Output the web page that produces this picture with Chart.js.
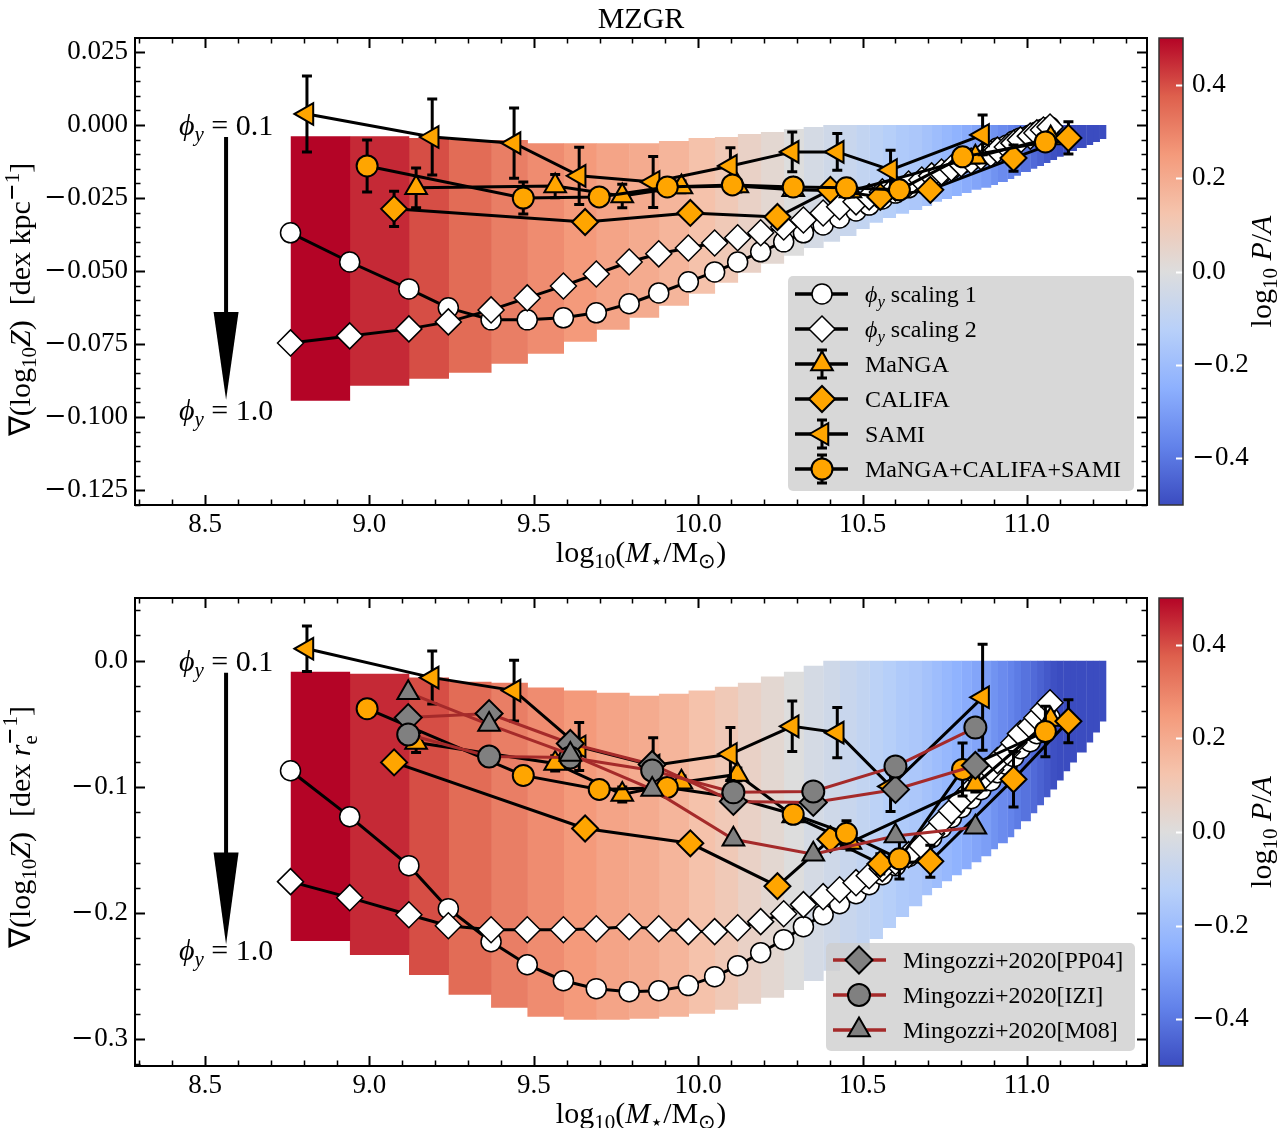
<!DOCTYPE html>
<html>
<head>
<meta charset="utf-8">
<script src="https://cdn.jsdelivr.net/npm/chart.js@4.4.1/dist/chart.umd.min.js"></script>
<style>
@font-face { font-family: 'MathMinus'; src: local('DejaVu Sans'), local('DejaVuSans'); unicode-range: U+2212, U+2207, U+22C6, U+2299; }
html,body{margin:0;padding:0;background:#fff;}
#wrap{position:relative;width:1281px;height:1128px;overflow:hidden;background:#fff;}
canvas{position:absolute;}
</style>
</head>
<body>
<div id="wrap">
<canvas id="cTop" width="1281" height="580" style="left:0;top:0"></canvas>
<canvas id="cBot" width="1281" height="563" style="left:0;top:565px"></canvas>
<canvas id="cbTop" width="141" height="580" style="left:1140px;top:0"></canvas>
<canvas id="cbBot" width="141" height="563" style="left:1140px;top:565px"></canvas>
</div>
<script>
// ---------------- DATA ----------------
// model mass grid (bin edges), log10(M*/Msun)
const massGrid = [8.76, 8.94, 9.12, 9.24, 9.37, 9.48, 9.59, 9.69, 9.79, 9.88, 9.97, 10.05, 10.12, 10.19, 10.26, 10.32, 10.38, 10.43, 10.48, 10.52, 10.56, 10.60, 10.64, 10.68, 10.71, 10.74, 10.77, 10.80, 10.83, 10.86, 10.89, 10.91, 10.94, 10.96, 10.98, 11.01, 11.03, 11.05, 11.07, 11.09, 11.11, 11.13, 11.15, 11.18, 11.20, 11.22, 11.24];
// log10 P/A per bin (colour of the band)
const bandLogPA = [0.50, 0.45, 0.40, 0.35, 0.31, 0.28, 0.25, 0.22, 0.20, 0.17, 0.13, 0.10, 0.06, 0.03, 0.00, -0.03, -0.05, -0.07, -0.09, -0.11, -0.13, -0.15, -0.16, -0.18, -0.20, -0.22, -0.24, -0.26, -0.28, -0.30, -0.33, -0.35, -0.37, -0.39, -0.41, -0.43, -0.45, -0.47, -0.49, -0.50, -0.50, -0.50, -0.50, -0.50, -0.50, -0.50];
// band limits (phi_y = 0.1 top, phi_y = 1.0 bottom), dex/kpc
const bandTopKpc = [-0.0038, -0.0038, -0.0044, -0.0051, -0.0051, -0.0062, -0.0062, -0.0062, -0.0062, -0.0055, -0.0044, -0.0041, -0.0031, -0.0024, -0.0014, -0.0007, 0, 0, 0, 0, 0, 0, 0, 0, 0, 0, 0, 0, 0, 0, 0, 0, 0, 0, 0, 0, 0, 0, 0, 0, 0, 0, 0, 0, 0, 0];
const bandBotKpc = [-0.0944, -0.0893, -0.0869, -0.0848, -0.0817, -0.0783, -0.0742, -0.0701, -0.0660, -0.0619, -0.0578, -0.0540, -0.0506, -0.0475, -0.0448, -0.0421, -0.0400, -0.0380, -0.0356, -0.0335, -0.0318, -0.0304, -0.0291, -0.0277, -0.0263, -0.0253, -0.0243, -0.0233, -0.0222, -0.0215, -0.0205, -0.0195, -0.0185, -0.0174, -0.0161, -0.0150, -0.0140, -0.0130, -0.0120, -0.0109, -0.0099, -0.0089, -0.0079, -0.0068, -0.0058, -0.0048];
// band limits, dex/re
const bandTopRe = [-0.0087, -0.0103, -0.0134, -0.0166, -0.0174, -0.0213, -0.0237, -0.0253, -0.0277, -0.0261, -0.0237, -0.0206, -0.0174, -0.0126, -0.0087, -0.0040, 0, 0, 0, 0, 0, 0, 0, 0, 0, 0, 0, 0, 0, 0, 0, 0, 0, 0, 0, 0, 0, 0, 0, 0, 0, 0, 0, 0, 0, 0];
const bandBotRe = [-0.2221, -0.2332, -0.2490, -0.2648, -0.2751, -0.2822, -0.2846, -0.2846, -0.2838, -0.2822, -0.2798, -0.2767, -0.2719, -0.2672, -0.2609, -0.2538, -0.2458, -0.2379, -0.2292, -0.2206, -0.2119, -0.2032, -0.1945, -0.1858, -0.1802, -0.1747, -0.1700, -0.1652, -0.1597, -0.1549, -0.1494, -0.1447, -0.1399, -0.1336, -0.1273, -0.1209, -0.1146, -0.1083, -0.1020, -0.0949, -0.0877, -0.0806, -0.0727, -0.0648, -0.0569, -0.0482];
// phi_y scaling curves (first 39 grid masses)
const scaling1Kpc = [-0.0369, -0.0469, -0.0561, -0.0626, -0.0667, -0.0667, -0.0660, -0.0643, -0.0612, -0.0575, -0.0537, -0.0503, -0.0469, -0.0434, -0.0400, -0.0369, -0.0342, -0.0318, -0.0294, -0.0274, -0.0253, -0.0233, -0.0215, -0.0198, -0.0181, -0.0164, -0.0150, -0.0133, -0.0120, -0.0106, -0.0092, -0.0079, -0.0068, -0.0055, -0.0044, -0.0034, -0.0024, -0.0014, -0.0007];
const scaling2Kpc = [-0.0746, -0.0722, -0.0698, -0.0674, -0.0633, -0.0592, -0.0551, -0.0510, -0.0469, -0.0441, -0.0421, -0.0404, -0.0386, -0.0369, -0.0349, -0.0325, -0.0301, -0.0280, -0.0263, -0.0246, -0.0229, -0.0215, -0.0202, -0.0188, -0.0174, -0.0161, -0.0147, -0.0133, -0.0123, -0.0109, -0.0099, -0.0086, -0.0075, -0.0062, -0.0051, -0.0038, -0.0027, -0.0017, -0.0007];
const scaling1Re = [-0.0872, -0.1236, -0.1624, -0.1965, -0.2227, -0.2409, -0.2536, -0.2599, -0.2623, -0.2615, -0.2575, -0.2504, -0.2417, -0.2314, -0.2211, -0.2108, -0.2013, -0.1926, -0.1846, -0.1775, -0.1696, -0.1624, -0.1553, -0.1482, -0.1403, -0.1323, -0.1244, -0.1165, -0.1094, -0.1022, -0.0951, -0.0887, -0.0824, -0.0761, -0.0697, -0.0642, -0.0578, -0.0515, -0.0452];
const scaling2Re = [-0.1751, -0.1878, -0.2013, -0.2100, -0.2132, -0.2132, -0.2132, -0.2124, -0.2108, -0.2124, -0.2147, -0.2147, -0.2116, -0.2068, -0.2005, -0.1933, -0.1870, -0.1815, -0.1759, -0.1704, -0.1648, -0.1593, -0.1537, -0.1466, -0.1371, -0.1276, -0.1189, -0.1101, -0.1022, -0.0943, -0.0864, -0.0792, -0.0721, -0.0650, -0.0578, -0.0515, -0.0452, -0.0388, -0.0333];
// observations
const mangaMass = [9.142, 9.565, 9.769, 9.949, 10.119, 10.289, 10.463, 10.843, 11.072];
const mangaKpc = [-0.0215, -0.0209, -0.0243, -0.0212, -0.0209, -0.0222, -0.0226, -0.0110, -0.0044];
const mangaKpcErr = [0.0068, 0.004, 0.004, 0.002, 0.002, 0.002, 0.002, 0.002, 0.002];
const mangaRe = [-0.0648, -0.0814, -0.1060, -0.0964, -0.0901, -0.1230, -0.1440, -0.0980, -0.0466];
const mangaReErr = [0.008, 0.006, 0.006, 0.005, 0.005, 0.006, 0.006, 0.006, 0.006];
const califaMass = [9.075, 9.656, 9.976, 10.241, 10.402, 10.554, 10.706, 10.959, 11.126];
const califaKpc = [-0.0287, -0.0332, -0.0301, -0.0315, -0.0222, -0.0246, -0.0222, -0.0113, -0.0044];
const califaKpcErr = [0.006, 0.001, 0.001, 0.001, 0.001, 0.0015, 0.002, 0.0045, 0.0055];
const califaRe = [-0.0806, -0.1330, -0.1447, -0.1787, -0.1415, -0.1610, -0.1590, -0.0940, -0.0480];
const califaReErr = [0.004, 0.003, 0.003, 0.003, 0.004, 0.008, 0.0127, 0.022, 0.017];
const samiMass = [8.810, 9.191, 9.440, 9.638, 9.863, 10.098, 10.286, 10.423, 10.585, 10.865];
const samiKpc = [0.0038, -0.0041, -0.0062, -0.0174, -0.0195, -0.0140, -0.0092, -0.0092, -0.0154, -0.0034];
const samiKpcErr = [0.013, 0.013, 0.012, 0.0098, 0.0087, 0.0062, 0.0068, 0.0063, 0.0068, 0.0068];
const samiRe = [0.0095, -0.0134, -0.0237, -0.0680, -0.0830, -0.0740, -0.0520, -0.0570, -0.0996, -0.0290];
const samiReErr = [0.018, 0.021, 0.024, 0.019, 0.022, 0.021, 0.020, 0.020, 0.020, 0.042];
const allMass = [8.993, 9.468, 9.699, 9.906, 10.104, 10.289, 10.451, 10.612, 10.804, 11.056];
const allKpc = [-0.0140, -0.0250, -0.0246, -0.0212, -0.0205, -0.0212, -0.0215, -0.0222, -0.0109, -0.0058];
const allKpcErr = [0.0089, 0.0055, 0.0025, 0.002, 0.002, 0.002, 0.002, 0.003, 0.002, 0.002];
const allRe = [-0.0380, -0.0909, -0.1020, -0.1004, -0.1080, -0.1217, -0.1368, -0.1570, -0.0862, -0.0561];
const allReErr = [0.004, 0.004, 0.004, 0.004, 0.004, 0.006, 0.010, 0.016, 0.021, 0.020];
const mingMass = [9.118, 9.364, 9.611, 9.860, 10.107, 10.350, 10.600, 10.843];
const mingPP04 = [-0.0451, -0.0419, -0.0656, -0.0822, -0.1115, -0.1123, -0.1020, -0.0830];
const mingIZI = [-0.0585, -0.0759, -0.0767, -0.0870, -0.1043, -0.1036, -0.0838, -0.0530];
const mingM08 = [-0.0253, -0.0506, -0.0743, -0.1020, -0.1415, -0.1534, -0.1390, -0.1320];
// axes
const xTickVals = [8.5, 9.0, 9.5, 10.0, 10.5, 11.0];
const xTickLabels = ['8.5', '9.0', '9.5', '10.0', '10.5', '11.0'];
const yTickValsKpc = [0.025, 0.0, -0.025, -0.05, -0.075, -0.1, -0.125];
const yTickLabelsKpc = ['0.025', '0.000', '\u22120.025', '\u22120.050', '\u22120.075', '\u22120.100', '\u22120.125'];
const yTickValsRe = [0.0, -0.1, -0.2, -0.3];
const yTickLabelsRe = ['0.0', '\u22120.1', '\u22120.2', '\u22120.3'];
const cbTickVals = [0.4, 0.2, 0.0, -0.2, -0.4];
const cbTickLabels = ['0.4', '0.2', '0.0', '\u22120.2', '\u22120.4'];
// annotation (phi_y arrow) positions, data coordinates
const arrowMass = 8.564;
const arrowKpc = {textTop: 0.0, shaftTop: -0.0041, headBase: -0.064, tip: -0.0941, textBot: -0.0975};
const arrowRe = {textTop: 0.0, shaftTop: -0.0095, headBase: -0.152, tip: -0.225, textBot: -0.229};

// ---------------- STYLE / HELPERS ----------------
const SERIF = '"MathMinus","Liberation Serif","Times New Roman","DejaVu Serif",serif';
const ORANGE = '#ffa500', GREY = '#808080', BROWN = '#a52a2a';
const COOLWARM = [[59,76,192],[98,130,234],[141,176,254],[184,208,249],[221,221,221],[245,196,173],[244,154,123],[222,96,77],[180,4,38]];
function cmap(v) {
  let t = Math.max(0, Math.min(1, (v + 0.5)));
  const n = COOLWARM.length - 1, f = t * n, i = Math.min(Math.floor(f), n - 1), u = f - i;
  const a = COOLWARM[i], b = COOLWARM[i + 1];
  return 'rgb(' + [0,1,2].map(k => Math.round(a[k] + (b[k] - a[k]) * u)).join(',') + ')';
}
function partFont(p, size) {
  const st = p[1];
  const small = (st === 'sub' || st === 'sup' || st === 'isub');
  const sz = small ? size * 0.7 : size;
  const it = (st === 'i' || st === 'isub');
  return {font: (it ? 'italic ' : '') + sz + 'px ' + SERIF,
          dy: (st === 'sub' || st === 'isub') ? size * 0.2 : (st === 'sup' ? -size * 0.38 : 0)};
}
function richWidth(ctx, parts, size) {
  let w = 0;
  for (const p of parts) {
    if (p[1] === 'ss') { ctx.font = (size * 0.7) + 'px ' + SERIF; w += Math.max(ctx.measureText(p[0][0]).width, ctx.measureText(p[0][1]).width); }
    else { ctx.font = partFont(p, size).font; w += ctx.measureText(p[0]).width; }
  }
  return w;
}
function drawRich(ctx, parts, x, y, size, align) {
  const w = richWidth(ctx, parts, size);
  let cx = align === 'center' ? x - w / 2 : (align === 'right' ? x - w : x);
  ctx.textAlign = 'left'; ctx.textBaseline = 'alphabetic';
  for (const p of parts) {
    if (p[1] === 'ss') {
      ctx.font = (size * 0.7) + 'px ' + SERIF;
      ctx.fillText(p[0][0], cx, y + size * 0.22);
      ctx.fillText(p[0][1], cx, y - size * 0.42);
      cx += Math.max(ctx.measureText(p[0][0]).width, ctx.measureText(p[0][1]).width);
    } else {
      const f = partFont(p, size); ctx.font = f.font;
      ctx.fillText(p[0], cx, y + f.dy);
      cx += ctx.measureText(p[0]).width;
    }
  }
}
const pts = (xs, ys) => xs.map((x, i) => ({x: x, y: ys[i]}));
const modelMass = massGrid.slice(0, 39);

function bandDatasets(top, bot) {
  return bandLogPA.map((v, i) => ({
    data: [{x: massGrid[i], y: top[i]}, {x: massGrid[i + 1] + 0.002, y: top[i]}],
    fill: {value: bot[i]}, backgroundColor: cmap(v), borderColor: 'rgba(0,0,0,0)', borderWidth: 0,
    pointRadius: 0, order: 50
  }));
}
function modelDs(ys, style, r, order) {
  return {data: pts(modelMass, ys), borderColor: '#000', borderWidth: 3, pointStyle: style, pointRadius: r,
          pointBackgroundColor: '#fff', pointBorderColor: '#000', pointBorderWidth: 1.5, fill: false, order: order};
}
function obsDs(xs, ys, errs, style, r, rot, order, fillc, linec) {
  return {data: pts(xs, ys), errors: errs, borderColor: linec || '#000', borderWidth: 3, pointStyle: style,
          pointRadius: r, pointRotation: rot || 0, pointBackgroundColor: fillc || ORANGE, pointBorderColor: '#000',
          pointBorderWidth: 2, fill: false, order: order};
}

const errorBarPlugin = {
  id: 'errbars',
  beforeDatasetDraw(chart, args) {
    const ds = chart.data.datasets[args.index];
    if (!ds.errors) return;
    const {ctx, chartArea: a, scales: {x, y}} = chart;
    ctx.save();
    ctx.beginPath(); ctx.rect(a.left, a.top, a.right - a.left, a.bottom - a.top); ctx.clip();
    ctx.strokeStyle = '#000'; ctx.lineWidth = 3;
    ds.data.forEach((p, i) => {
      const e = ds.errors[i]; const px = x.getPixelForValue(p.x);
      const y1 = y.getPixelForValue(p.y + e), y2 = y.getPixelForValue(p.y - e);
      ctx.beginPath();
      ctx.moveTo(px, y1); ctx.lineTo(px, y2);
      ctx.moveTo(px - 5, y1); ctx.lineTo(px + 5, y1);
      ctx.moveTo(px - 5, y2); ctx.lineTo(px + 5, y2);
      ctx.stroke();
    });
    ctx.restore();
  }
};

function axesPlugin(yMajor, yMinorStep) {
  return {
    id: 'axesFrame',
    afterDraw(chart) {
      const {ctx, chartArea: a, scales: {x, y}} = chart;
      const steps = (min, max, st) => { const o = []; for (let k = Math.ceil(min / st - 1e-9); k * st <= max + 1e-12; k++) o.push(k * st); return o; };
      const isMaj = (v, m) => m.some(q => Math.abs(q - v) < 1e-9);
      ctx.save(); ctx.strokeStyle = '#000';
      for (const v of steps(x.min, x.max, 0.1)) {
        const px = Math.round(x.getPixelForValue(v)) + 0.5, maj = isMaj(v, xTickVals), L = maj ? 10 : 5.5;
        ctx.lineWidth = maj ? 2 : 1.5; ctx.beginPath();
        ctx.moveTo(px, a.bottom); ctx.lineTo(px, a.bottom - L); ctx.moveTo(px, a.top); ctx.lineTo(px, a.top + L); ctx.stroke();
      }
      for (const v of steps(y.min, y.max, yMinorStep)) {
        const py = Math.round(y.getPixelForValue(v)) + 0.5, maj = isMaj(v, yMajor), L = maj ? 10 : 5.5;
        ctx.lineWidth = maj ? 2 : 1.5; ctx.beginPath();
        ctx.moveTo(a.left, py); ctx.lineTo(a.left + L, py); ctx.moveTo(a.right, py); ctx.lineTo(a.right - L, py); ctx.stroke();
      }
      ctx.lineWidth = 2; ctx.strokeRect(a.left, a.top, a.right - a.left, a.bottom - a.top);
      ctx.restore();
    }
  };
}

function arrowPlugin(cfg) {
  return {
    id: 'phiArrow',
    afterDatasetsDraw(chart) {
      const {ctx, scales: {x, y}} = chart;
      const px = x.getPixelForValue(arrowMass);
      ctx.save(); ctx.fillStyle = '#000'; ctx.strokeStyle = '#000';
      const hb = y.getPixelForValue(cfg.headBase), tp = y.getPixelForValue(cfg.tip);
      ctx.lineWidth = 4; ctx.beginPath(); ctx.moveTo(px, y.getPixelForValue(cfg.shaftTop)); ctx.lineTo(px, hb + 2); ctx.stroke();
      ctx.beginPath(); ctx.moveTo(px - 12.5, hb); ctx.lineTo(px + 12.5, hb); ctx.lineTo(px, tp); ctx.closePath(); ctx.fill();
      drawRich(ctx, [['\u03d5', 'i'], ['y', 'isub'], [' = 0.1', 'n']], px, y.getPixelForValue(cfg.textTop) + 10, 30, 'center');
      drawRich(ctx, [['\u03d5', 'i'], ['y', 'isub'], [' = 1.0', 'n']], px, y.getPixelForValue(cfg.textBot) + 10, 30, 'center');
      ctx.restore();
    }
  };
}

function drawMarker(ctx, style, r, rot, fill, bw, x, y) {
  ctx.save(); ctx.fillStyle = fill; ctx.strokeStyle = '#000'; ctx.lineWidth = bw;
  Chart.helpers.drawPoint(ctx, {pointStyle: style, radius: r, rotation: rot, borderWidth: bw}, x, y);
  ctx.restore();
}

function legendPlugin(entries, box) {
  return {
    id: 'customLegend',
    afterDatasetsDraw(chart) {
      const {ctx, chartArea: a} = chart;
      const L = a.right - box.insetR - box.w, T = a.bottom - box.insetB - box.h;
      ctx.save();
      ctx.fillStyle = 'rgba(206,206,206,0.8)';
      ctx.beginPath(); ctx.roundRect(L, T, box.w, box.h, 5); ctx.fill();
      entries.forEach((e, k) => {
        const yy = T + box.row0 + k * box.rowH, mx = L + box.markX;
        ctx.strokeStyle = e.line; ctx.lineWidth = 3.5;
        ctx.beginPath(); ctx.moveTo(L + box.lineX0, yy); ctx.lineTo(L + box.lineX1, yy); ctx.stroke();
        if (e.err) {
          ctx.strokeStyle = '#000'; ctx.lineWidth = 3; ctx.beginPath();
          ctx.moveTo(mx, yy - 14); ctx.lineTo(mx, yy + 14);
          ctx.moveTo(mx - 5, yy - 14); ctx.lineTo(mx + 5, yy - 14);
          ctx.moveTo(mx - 5, yy + 14); ctx.lineTo(mx + 5, yy + 14); ctx.stroke();
        }
        drawMarker(ctx, e.style, e.r, e.rot || 0, e.fill, e.bw || 2, mx, yy);
        ctx.fillStyle = '#000';
        drawRich(ctx, e.parts, L + box.textX, yy + 8, box.font, 'left');
      });
      ctx.restore();
    }
  };
}

function labelsPlugin(xParts, yParts, yShift, title) {
  return {
    id: 'axisLabels',
    afterDraw(chart) {
      const {ctx, chartArea: a} = chart;
      ctx.save(); ctx.fillStyle = '#000';
      const cx = (a.left + a.right) / 2;
      drawRich(ctx, xParts, cx, a.bottom + 57, 30, 'center');
      ctx.translate(30, (a.top + a.bottom) / 2 + yShift); ctx.rotate(-Math.PI / 2);
      drawRich(ctx, yParts, 0, 0, 30, 'center');
      ctx.restore();
      if (title) {
        ctx.save(); ctx.fillStyle = '#000';
        drawRich(ctx, [[title, 'n']], cx, 28, 30, 'center');
        ctx.restore();
      }
    }
  };
}

const xMin = 8.287, xMax = 11.365;

function mainChart(id, topPad, xH, yMin, yMax, yVals, yLabels, datasets, extraPlugins) {
  return new Chart(document.getElementById(id), {
    type: 'line',
    data: {datasets: datasets},
    options: {
      responsive: false, animation: false, devicePixelRatio: 1,
      layout: {padding: {left: 0, right: 134, top: topPad, bottom: 0}},
      plugins: {legend: {display: false}, tooltip: {enabled: false}, title: {display: false}},
      elements: {line: {tension: 0}},
      scales: {
        x: {type: 'linear', min: xMin, max: xMax, grid: {display: false, drawTicks: false}, border: {display: false},
            afterFit: s => { s.height = xH; },
            afterBuildTicks: s => { s.ticks = xTickVals.map(v => ({value: v})); },
            ticks: {font: {family: SERIF, size: 27}, color: '#000', padding: 4, maxRotation: 0, autoSkip: false,
                    callback: v => xTickLabels[xTickVals.findIndex(q => Math.abs(q - v) < 1e-9)]}},
        y: {type: 'linear', min: yMin, max: yMax, grid: {display: false, drawTicks: false}, border: {display: false},
            afterFit: s => { s.width = 135; },
            afterBuildTicks: s => { s.ticks = yVals.map(v => ({value: v})); },
            ticks: {font: {family: SERIF, size: 27}, color: '#000', padding: 7, autoSkip: false,
                    callback: v => yLabels[yVals.findIndex(q => Math.abs(q - v) < 1e-9)]}}
      }
    },
    plugins: [errorBarPlugin].concat(extraPlugins)
  });
}

const phiParts = (s) => [['\u03d5', 'i'], ['y', 'isub'], [s, 'n']];
const topLegend = [
  {parts: phiParts(' scaling 1'), line: '#000', style: 'circle', r: 10, fill: '#fff', bw: 1.5},
  {parts: phiParts(' scaling 2'), line: '#000', style: 'rectRot', r: 13, fill: '#fff', bw: 1.5},
  {parts: [['MaNGA', 'n']], line: '#000', style: 'triangle', r: 12.5, fill: ORANGE, err: true},
  {parts: [['CALIFA', 'n']], line: '#000', style: 'rectRot', r: 13, fill: ORANGE},
  {parts: [['SAMI', 'n']], line: '#000', style: 'triangle', r: 12.5, rot: -90, fill: ORANGE, err: true},
  {parts: [['MaNGA+CALIFA+SAMI', 'n']], line: '#000', style: 'circle', r: 10.5, fill: ORANGE, err: true}
];
const botLegend = [
  {parts: [['Mingozzi+2020[PP04]', 'n']], line: BROWN, style: 'rectRot', r: 13.5, fill: GREY},
  {parts: [['Mingozzi+2020[IZI]', 'n']], line: BROWN, style: 'circle', r: 11, fill: GREY},
  {parts: [['Mingozzi+2020[M08]', 'n']], line: BROWN, style: 'triangle', r: 12.5, fill: GREY}
];

const xLabelParts = [['log', 'n'], ['10', 'sub'], ['(', 'n'], ['M', 'i'], ['\u22c6', 'sub'], ['/M', 'n'], ['\u2299', 'sub'], [')', 'n']];
const yLabelKpc = [['\u2207(log', 'n'], ['10', 'sub'], ['Z', 'i'], [')  [dex kpc', 'n'], ['\u22121', 'sup'], [']', 'n']];
const yLabelRe = [['\u2207(log', 'n'], ['10', 'sub'], ['Z', 'i'], [')  [dex ', 'n'], ['r', 'i'], [['e', '\u22121'], 'ss'], [']', 'n']];

function build() {
  // top panel
  const topDs = bandDatasets(bandTopKpc, bandBotKpc).concat([
    modelDs(scaling1Kpc, 'circle', 10, 12),
    modelDs(scaling2Kpc, 'rectRot', 13, 11),
    obsDs(mangaMass, mangaKpc, mangaKpcErr, 'triangle', 12.5, 0, 8),
    obsDs(califaMass, califaKpc, califaKpcErr, 'rectRot', 13, 0, 7),
    obsDs(samiMass, samiKpc, samiKpcErr, 'triangle', 12.5, -90, 6),
    obsDs(allMass, allKpc, allKpcErr, 'circle', 10.5, 0, 5)
  ]);
  mainChart('cTop', 38, 75, -0.1301, 0.0298, yTickValsKpc, yTickLabelsKpc, topDs, [
    arrowPlugin(arrowKpc),
    legendPlugin(topLegend, {w: 346, h: 215, insetR: 13, insetB: 14, row0: 18, rowH: 35, lineX0: 7, lineX1: 60, markX: 34, textX: 77, font: 24}),
    axesPlugin(yTickValsKpc, 0.005),
    labelsPlugin(xLabelParts, yLabelKpc, 28, 'MZGR')
  ]);

  // bottom panel
  const botDs = bandDatasets(bandTopRe, bandBotRe).concat([
    modelDs(scaling1Re, 'circle', 10, 12),
    modelDs(scaling2Re, 'rectRot', 13, 11),
    obsDs(mangaMass, mangaRe, mangaReErr, 'triangle', 12.5, 0, 8),
    obsDs(califaMass, califaRe, califaReErr, 'rectRot', 13, 0, 7),
    obsDs(samiMass, samiRe, samiReErr, 'triangle', 12.5, -90, 6),
    obsDs(allMass, allRe, allReErr, 'circle', 10.5, 0, 5),
    obsDs(mingMass, mingPP04, null, 'rectRot', 13.5, 0, 3, GREY, BROWN),
    obsDs(mingMass, mingIZI, null, 'circle', 11, 0, 2, GREY, BROWN),
    obsDs(mingMass, mingM08, null, 'triangle', 12.5, 0, 1, GREY, BROWN)
  ]);
  mainChart('cBot', 33, 62, -0.3212, 0.0497, yTickValsRe, yTickLabelsRe, botDs, [
    arrowPlugin(arrowRe),
    legendPlugin(botLegend, {w: 309, h: 108, insetR: 12, insetB: 15, row0: 17, rowH: 35, lineX0: 7, lineX1: 60, markX: 33, textX: 77, font: 24}),
    axesPlugin(yTickValsRe, 0.02),
    labelsPlugin(xLabelParts, yLabelRe, -5, null)
  ]);

  colorbar('cbTop', 38, 75);
  colorbar('cbBot', 33, 62);
}

// colour bars
function colorbar(id, topPad, botPad) {
  return new Chart(document.getElementById(id), {
    type: 'line',
    data: {datasets: []},
    options: {
      responsive: false, animation: false, devicePixelRatio: 1,
      layout: {padding: {left: 19, right: 0, top: topPad, bottom: botPad}},
      plugins: {legend: {display: false}, tooltip: {enabled: false}},
      scales: {
        x: {type: 'linear', display: false, min: 0, max: 1},
        y: {type: 'linear', position: 'right', min: -0.5, max: 0.5, grid: {display: false, drawTicks: false}, border: {display: false},
            afterFit: s => { s.width = 98; },
            afterBuildTicks: s => { s.ticks = cbTickVals.map(v => ({value: v})); },
            ticks: {font: {family: SERIF, size: 27}, color: '#000', padding: 9, autoSkip: false,
                    callback: v => cbTickLabels[cbTickVals.findIndex(q => Math.abs(q - v) < 1e-9)]}}
      }
    },
    plugins: [{
      id: 'cbar',
      afterDraw(chart) {
        const {ctx, chartArea: a, scales: {y}} = chart;
        ctx.save();
        const g = ctx.createLinearGradient(0, a.bottom, 0, a.top);
        COOLWARM.forEach((c, i) => g.addColorStop(i / (COOLWARM.length - 1), 'rgb(' + c.join(',') + ')'));
        ctx.fillStyle = g; ctx.fillRect(a.left, a.top, a.right - a.left, a.bottom - a.top);
        ctx.strokeStyle = '#fff'; ctx.lineWidth = 2;
        for (const v of cbTickVals) {
          const py = Math.round(y.getPixelForValue(v)) + 0.5;
          ctx.beginPath(); ctx.moveTo(a.right - 7, py); ctx.lineTo(a.right, py); ctx.stroke();
        }
        ctx.strokeStyle = '#333'; ctx.lineWidth = 1.5;
        ctx.strokeRect(a.left, a.top, a.right - a.left, a.bottom - a.top);
        ctx.fillStyle = '#000';
        ctx.translate(131, (a.top + a.bottom) / 2); ctx.rotate(-Math.PI / 2);
        drawRich(ctx, [['log', 'n'], ['10', 'sub'], [' ', 'n'], ['P', 'i'], ['/', 'n'], ['A', 'i']], 0, 0, 30, 'center');
        ctx.restore();
      }
    }]
  });
}

Promise.all([
  document.fonts.load('27px MathMinus', '\u2212'),
  document.fonts.load('27px "Liberation Serif"', '0'),
  document.fonts.load('italic 27px "Liberation Serif"', 'M')
]).catch(() => {}).then(build);
</script>
</body>
</html>
